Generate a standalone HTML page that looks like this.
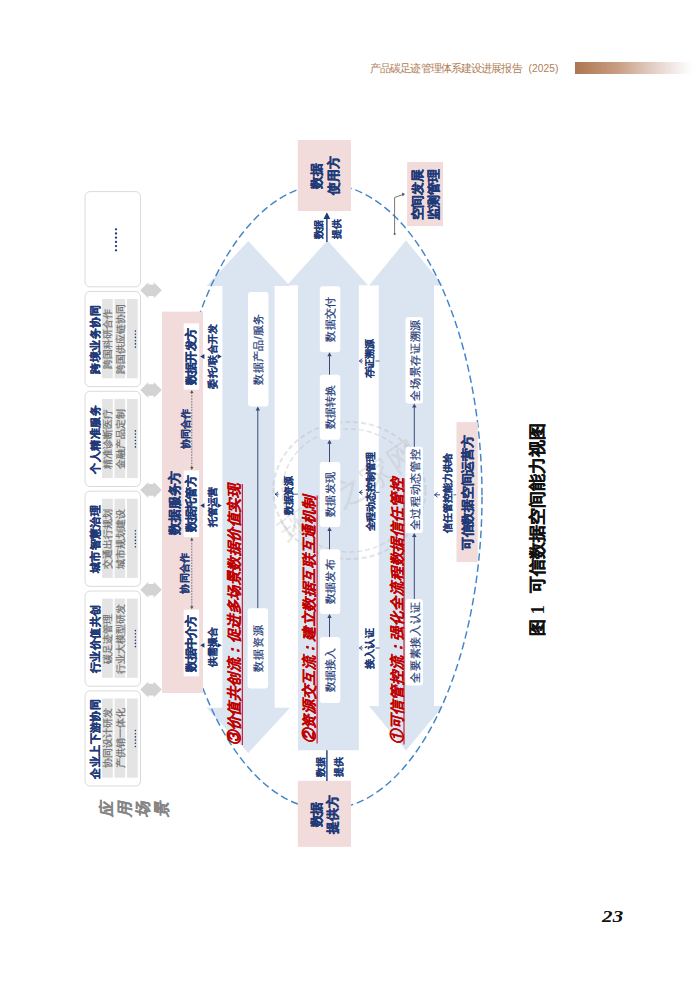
<!DOCTYPE html>
<html><head><meta charset="utf-8"><title>可信数据空间能力视图</title>
<style>
html,body{margin:0;padding:0;background:#fff;}
body{width:699px;height:983px;overflow:hidden;position:relative;font-family:'Liberation Sans', sans-serif;}
.bar{position:absolute;left:575px;top:62px;width:118px;height:12px;background:linear-gradient(90deg,#ac7650 0%,#c79c80 35%,#e3cdc3 65%,#f8f2f2 90%,#fff 100%);}
.pg{position:absolute;left:602px;top:906px;font-family:'Liberation Serif', serif;font-weight:bold;font-style:italic;font-size:17.5px;letter-spacing:0.3px;color:#111;transform:scaleX(1.2);transform-origin:0 0;}
svg{position:absolute;left:0;top:0;}
</style></head>
<body>
<div class="bar"></div>
<svg width="699" height="983" viewBox="0 0 699 983">
<rect x="85" y="191.6" width="55.5" height="95.2" rx="5" fill="#fff" stroke="#dadada" stroke-width="1" />
<circle cx="116" cy="229.3" r="1.15" fill="#1f3a78"/>
<circle cx="116" cy="233.5" r="1.15" fill="#1f3a78"/>
<circle cx="116" cy="237.7" r="1.15" fill="#1f3a78"/>
<circle cx="116" cy="241.9" r="1.15" fill="#1f3a78"/>
<circle cx="116" cy="246.1" r="1.15" fill="#1f3a78"/>
<circle cx="116" cy="250.3" r="1.15" fill="#1f3a78"/>
<rect x="85" y="291.45" width="55.5" height="95.2" rx="5" fill="#fff" stroke="#dadada" stroke-width="1" />
<text transform="translate(94.8,339.55) rotate(-90)" text-anchor="middle" dominant-baseline="central" font-size="11.2" fill="#1f3a78" font-weight="bold" font-style="normal" font-family="'Liberation Sans', sans-serif" stroke="#1f3a78" stroke-width="0.34" stroke-linejoin="round"  textLength="68.4" lengthAdjust="spacing">跨境业务协同</text>
<rect x="102.1" y="299.05" width="10.7" height="79.2" rx="0" fill="#e4e4e4" stroke="none" stroke-width="0" />
<text transform="translate(107.69999999999999,339.05) rotate(-90)" text-anchor="middle" dominant-baseline="central" font-size="9.6" fill="#707070" font-weight="normal" font-style="normal" font-family="'Liberation Sans', sans-serif" stroke="#707070" stroke-width="0.22" stroke-linejoin="round"  textLength="60" lengthAdjust="spacing">跨国科研合作</text>
<rect x="114.5" y="299.05" width="10.7" height="79.2" rx="0" fill="#e4e4e4" stroke="none" stroke-width="0" />
<text transform="translate(120.1,339.05) rotate(-90)" text-anchor="middle" dominant-baseline="central" font-size="9.6" fill="#707070" font-weight="normal" font-style="normal" font-family="'Liberation Sans', sans-serif" stroke="#707070" stroke-width="0.22" stroke-linejoin="round"  textLength="70" lengthAdjust="spacing">跨国供应链协同</text>
<rect x="127" y="299.05" width="10.7" height="79.2" rx="0" fill="#e4e4e4" stroke="none" stroke-width="0" />
<circle cx="135.4" cy="331.1" r="0.8" fill="#1f3a78"/>
<circle cx="135.4" cy="334.2" r="0.8" fill="#1f3a78"/>
<circle cx="135.4" cy="337.4" r="0.8" fill="#1f3a78"/>
<circle cx="135.4" cy="340.7" r="0.8" fill="#1f3a78"/>
<circle cx="135.4" cy="343.9" r="0.8" fill="#1f3a78"/>
<circle cx="135.4" cy="347.1" r="0.8" fill="#1f3a78"/>
<rect x="85" y="391.29999999999995" width="55.5" height="95.2" rx="5" fill="#fff" stroke="#dadada" stroke-width="1" />
<text transform="translate(94.8,439.4) rotate(-90)" text-anchor="middle" dominant-baseline="central" font-size="11.2" fill="#1f3a78" font-weight="bold" font-style="normal" font-family="'Liberation Sans', sans-serif" stroke="#1f3a78" stroke-width="0.34" stroke-linejoin="round"  textLength="68.4" lengthAdjust="spacing">个人精准服务</text>
<rect x="102.1" y="398.9" width="10.7" height="79.2" rx="0" fill="#e4e4e4" stroke="none" stroke-width="0" />
<text transform="translate(107.69999999999999,438.9) rotate(-90)" text-anchor="middle" dominant-baseline="central" font-size="9.6" fill="#707070" font-weight="normal" font-style="normal" font-family="'Liberation Sans', sans-serif" stroke="#707070" stroke-width="0.22" stroke-linejoin="round"  textLength="60" lengthAdjust="spacing">精准诊断医疗</text>
<rect x="114.5" y="398.9" width="10.7" height="79.2" rx="0" fill="#e4e4e4" stroke="none" stroke-width="0" />
<text transform="translate(120.1,438.9) rotate(-90)" text-anchor="middle" dominant-baseline="central" font-size="9.6" fill="#707070" font-weight="normal" font-style="normal" font-family="'Liberation Sans', sans-serif" stroke="#707070" stroke-width="0.22" stroke-linejoin="round"  textLength="60" lengthAdjust="spacing">金融产品定制</text>
<rect x="127" y="398.9" width="10.7" height="79.2" rx="0" fill="#e4e4e4" stroke="none" stroke-width="0" />
<circle cx="135.4" cy="430.9" r="0.8" fill="#1f3a78"/>
<circle cx="135.4" cy="434.1" r="0.8" fill="#1f3a78"/>
<circle cx="135.4" cy="437.3" r="0.8" fill="#1f3a78"/>
<circle cx="135.4" cy="440.5" r="0.8" fill="#1f3a78"/>
<circle cx="135.4" cy="443.7" r="0.8" fill="#1f3a78"/>
<circle cx="135.4" cy="446.9" r="0.8" fill="#1f3a78"/>
<rect x="85" y="491.15" width="55.5" height="95.2" rx="5" fill="#fff" stroke="#dadada" stroke-width="1" />
<text transform="translate(94.8,539.25) rotate(-90)" text-anchor="middle" dominant-baseline="central" font-size="11.2" fill="#1f3a78" font-weight="bold" font-style="normal" font-family="'Liberation Sans', sans-serif" stroke="#1f3a78" stroke-width="0.34" stroke-linejoin="round"  textLength="68.4" lengthAdjust="spacing">城市智慧治理</text>
<rect x="102.1" y="498.75" width="10.7" height="79.2" rx="0" fill="#e4e4e4" stroke="none" stroke-width="0" />
<text transform="translate(107.69999999999999,538.75) rotate(-90)" text-anchor="middle" dominant-baseline="central" font-size="9.6" fill="#707070" font-weight="normal" font-style="normal" font-family="'Liberation Sans', sans-serif" stroke="#707070" stroke-width="0.22" stroke-linejoin="round"  textLength="60" lengthAdjust="spacing">交通出行规划</text>
<rect x="114.5" y="498.75" width="10.7" height="79.2" rx="0" fill="#e4e4e4" stroke="none" stroke-width="0" />
<text transform="translate(120.1,538.75) rotate(-90)" text-anchor="middle" dominant-baseline="central" font-size="9.6" fill="#707070" font-weight="normal" font-style="normal" font-family="'Liberation Sans', sans-serif" stroke="#707070" stroke-width="0.22" stroke-linejoin="round"  textLength="60" lengthAdjust="spacing">城市规划建设</text>
<rect x="127" y="498.75" width="10.7" height="79.2" rx="0" fill="#e4e4e4" stroke="none" stroke-width="0" />
<circle cx="135.4" cy="530.8" r="0.8" fill="#1f3a78"/>
<circle cx="135.4" cy="534.0" r="0.8" fill="#1f3a78"/>
<circle cx="135.4" cy="537.1" r="0.8" fill="#1f3a78"/>
<circle cx="135.4" cy="540.4" r="0.8" fill="#1f3a78"/>
<circle cx="135.4" cy="543.5" r="0.8" fill="#1f3a78"/>
<circle cx="135.4" cy="546.8" r="0.8" fill="#1f3a78"/>
<rect x="85" y="591.0" width="55.5" height="95.2" rx="5" fill="#fff" stroke="#dadada" stroke-width="1" />
<text transform="translate(94.8,639.1) rotate(-90)" text-anchor="middle" dominant-baseline="central" font-size="11.2" fill="#1f3a78" font-weight="bold" font-style="normal" font-family="'Liberation Sans', sans-serif" stroke="#1f3a78" stroke-width="0.34" stroke-linejoin="round"  textLength="68.4" lengthAdjust="spacing">行业价值共创</text>
<rect x="102.1" y="598.6" width="10.7" height="79.2" rx="0" fill="#e4e4e4" stroke="none" stroke-width="0" />
<text transform="translate(107.69999999999999,638.6) rotate(-90)" text-anchor="middle" dominant-baseline="central" font-size="9.6" fill="#707070" font-weight="normal" font-style="normal" font-family="'Liberation Sans', sans-serif" stroke="#707070" stroke-width="0.22" stroke-linejoin="round"  textLength="50" lengthAdjust="spacing">碳足迹管理</text>
<rect x="114.5" y="598.6" width="10.7" height="79.2" rx="0" fill="#e4e4e4" stroke="none" stroke-width="0" />
<text transform="translate(120.1,638.6) rotate(-90)" text-anchor="middle" dominant-baseline="central" font-size="9.6" fill="#707070" font-weight="normal" font-style="normal" font-family="'Liberation Sans', sans-serif" stroke="#707070" stroke-width="0.22" stroke-linejoin="round"  textLength="70" lengthAdjust="spacing">行业大模型研发</text>
<rect x="127" y="598.6" width="10.7" height="79.2" rx="0" fill="#e4e4e4" stroke="none" stroke-width="0" />
<circle cx="135.4" cy="630.6" r="0.8" fill="#1f3a78"/>
<circle cx="135.4" cy="633.8" r="0.8" fill="#1f3a78"/>
<circle cx="135.4" cy="637.0" r="0.8" fill="#1f3a78"/>
<circle cx="135.4" cy="640.2" r="0.8" fill="#1f3a78"/>
<circle cx="135.4" cy="643.4" r="0.8" fill="#1f3a78"/>
<circle cx="135.4" cy="646.6" r="0.8" fill="#1f3a78"/>
<rect x="85" y="690.85" width="55.5" height="95.2" rx="5" fill="#fff" stroke="#dadada" stroke-width="1" />
<text transform="translate(94.8,738.95) rotate(-90)" text-anchor="middle" dominant-baseline="central" font-size="11.2" fill="#1f3a78" font-weight="bold" font-style="normal" font-family="'Liberation Sans', sans-serif" stroke="#1f3a78" stroke-width="0.34" stroke-linejoin="round"  textLength="79.8" lengthAdjust="spacing">企业上下游协同</text>
<rect x="102.1" y="698.45" width="10.7" height="79.2" rx="0" fill="#e4e4e4" stroke="none" stroke-width="0" />
<text transform="translate(107.69999999999999,738.45) rotate(-90)" text-anchor="middle" dominant-baseline="central" font-size="9.6" fill="#707070" font-weight="normal" font-style="normal" font-family="'Liberation Sans', sans-serif" stroke="#707070" stroke-width="0.22" stroke-linejoin="round"  textLength="60" lengthAdjust="spacing">协同设计研发</text>
<rect x="114.5" y="698.45" width="10.7" height="79.2" rx="0" fill="#e4e4e4" stroke="none" stroke-width="0" />
<text transform="translate(120.1,738.45) rotate(-90)" text-anchor="middle" dominant-baseline="central" font-size="9.6" fill="#707070" font-weight="normal" font-style="normal" font-family="'Liberation Sans', sans-serif" stroke="#707070" stroke-width="0.22" stroke-linejoin="round"  textLength="60" lengthAdjust="spacing">产供销一体化</text>
<rect x="127" y="698.45" width="10.7" height="79.2" rx="0" fill="#e4e4e4" stroke="none" stroke-width="0" />
<circle cx="135.4" cy="730.5" r="0.8" fill="#1f3a78"/>
<circle cx="135.4" cy="733.7" r="0.8" fill="#1f3a78"/>
<circle cx="135.4" cy="736.9" r="0.8" fill="#1f3a78"/>
<circle cx="135.4" cy="740.1" r="0.8" fill="#1f3a78"/>
<circle cx="135.4" cy="743.2" r="0.8" fill="#1f3a78"/>
<circle cx="135.4" cy="746.5" r="0.8" fill="#1f3a78"/>
<path d="M140.3,290.2 L148.3,282.2 L148.3,284.4 L153.8,284.4 L153.8,282.2 L161.8,290.2 L153.8,298.2 L153.8,296.0 L148.3,296.0 L148.3,298.2 Z" fill="#d3d3d3"/>
<path d="M140.3,390.04999999999995 L148.3,382.04999999999995 L148.3,384.24999999999994 L153.8,384.24999999999994 L153.8,382.04999999999995 L161.8,390.04999999999995 L153.8,398.04999999999995 L153.8,395.84999999999997 L148.3,395.84999999999997 L148.3,398.04999999999995 Z" fill="#d3d3d3"/>
<path d="M140.3,489.8999999999999 L148.3,481.8999999999999 L148.3,484.0999999999999 L153.8,484.0999999999999 L153.8,481.8999999999999 L161.8,489.8999999999999 L153.8,497.8999999999999 L153.8,495.69999999999993 L148.3,495.69999999999993 L148.3,497.8999999999999 Z" fill="#d3d3d3"/>
<path d="M140.3,589.75 L148.3,581.75 L148.3,583.95 L153.8,583.95 L153.8,581.75 L161.8,589.75 L153.8,597.75 L153.8,595.55 L148.3,595.55 L148.3,597.75 Z" fill="#d3d3d3"/>
<path d="M140.3,689.6 L148.3,681.6 L148.3,683.8000000000001 L153.8,683.8000000000001 L153.8,681.6 L161.8,689.6 L153.8,697.6 L153.8,695.4 L148.3,695.4 L148.3,697.6 Z" fill="#d3d3d3"/>
<text transform="translate(106.3,807.5) rotate(-90) skewX(-12)" text-anchor="middle" dominant-baseline="central" font-size="15.5" fill="#858585" font-weight="bold" font-family="'Liberation Sans', sans-serif" stroke="#858585" stroke-width="0.2">应</text>
<text transform="translate(124.6,807.5) rotate(-90) skewX(-12)" text-anchor="middle" dominant-baseline="central" font-size="15.5" fill="#858585" font-weight="bold" font-family="'Liberation Sans', sans-serif" stroke="#858585" stroke-width="0.2">用</text>
<text transform="translate(142.9,807.5) rotate(-90) skewX(-12)" text-anchor="middle" dominant-baseline="central" font-size="15.5" fill="#858585" font-weight="bold" font-family="'Liberation Sans', sans-serif" stroke="#858585" stroke-width="0.2">场</text>
<text transform="translate(161.2,807.5) rotate(-90) skewX(-12)" text-anchor="middle" dominant-baseline="central" font-size="15.5" fill="#858585" font-weight="bold" font-family="'Liberation Sans', sans-serif" stroke="#858585" stroke-width="0.2">景</text>
<path d="M248.25,241 L290,286 L274.6,286 L274.6,707.8 L290,707.8 L248.25,753 L206.5,707.8 L222.4,707.8 L222.4,286 L206.5,286 Z" fill="#dbe4f1"/>
<path d="M327.5,240.5 L368,285.3 L358.8,285.3 L358.8,750.2 L298,750.2 L298,285.3 L287,285.3 Z" fill="#dbe4f1"/>
<path d="M406.0,240.5 L443,285.5 L434,285.5 L434,706 L443,706 L406.0,750.5 L369,706 L378.8,706 L378.8,285.5 L369,285.5 Z" fill="#dbe4f1"/>
<g opacity="0.4" fill="none" stroke="#bdbdbd" stroke-width="2" stroke-dasharray="5 3"><ellipse cx="349.4" cy="490.5" rx="76" ry="68.5"/><ellipse cx="349.4" cy="490.5" rx="67" ry="61.5" stroke-width="1.5"/></g>
<text transform="translate(349,492) rotate(-33)" text-anchor="middle" dominant-baseline="central" font-size="31" fill="#c4c4c4" opacity="0.4" font-family="'Liberation Sans', sans-serif" textLength="160" lengthAdjust="spacing">环境之家网</text>
<ellipse cx="326.1" cy="496.8" rx="155.9" ry="312.4" fill="none" stroke="#4285c8" stroke-width="1.45" stroke-dasharray="7.5 3.8"/>
<rect x="248" y="292" width="20.5" height="114.60000000000002" rx="3" fill="#fff" stroke="none" stroke-width="0" />
<text transform="translate(258.25,349.3) rotate(-90)" text-anchor="middle" dominant-baseline="central" font-size="11" fill="#1f3a78" font-weight="normal" font-style="normal" font-family="'Liberation Sans', sans-serif" stroke="#1f3a78" stroke-width="0.22" stroke-linejoin="round"  textLength="71" lengthAdjust="spacing">数据产品/服务</text>
<rect x="247.6" y="608.2" width="20.5" height="80.39999999999998" rx="3" fill="#fff" stroke="none" stroke-width="0" />
<text transform="translate(257.85,648.4000000000001) rotate(-90)" text-anchor="middle" dominant-baseline="central" font-size="11" fill="#1f3a78" font-weight="normal" font-style="normal" font-family="'Liberation Sans', sans-serif" stroke="#1f3a78" stroke-width="0.22" stroke-linejoin="round"  textLength="46.5" lengthAdjust="spacing">数据资源</text>
<line x1="257.8" y1="608.2" x2="257.8" y2="409.6" stroke="#3b4a7a" stroke-width="1"/>
<path d="M255.60000000000002,410.6 L257.8,406.6 L260.0,410.6 Z" fill="#3b4a7a"/>
<rect x="319.8" y="286.3" width="20.5" height="66.0" rx="3" fill="#fff" stroke="none" stroke-width="0" />
<text transform="translate(329.6,319.3) rotate(-90)" text-anchor="middle" dominant-baseline="central" font-size="11" fill="#1f3a78" font-weight="normal" font-style="normal" font-family="'Liberation Sans', sans-serif" stroke="#1f3a78" stroke-width="0.22" stroke-linejoin="round"  textLength="44.5" lengthAdjust="spacing">数据交付</text>
<rect x="319.8" y="374.7" width="20.5" height="65.0" rx="3" fill="#fff" stroke="none" stroke-width="0" />
<text transform="translate(329.6,407.2) rotate(-90)" text-anchor="middle" dominant-baseline="central" font-size="11" fill="#1f3a78" font-weight="normal" font-style="normal" font-family="'Liberation Sans', sans-serif" stroke="#1f3a78" stroke-width="0.22" stroke-linejoin="round"  textLength="44.5" lengthAdjust="spacing">数据转换</text>
<rect x="319.8" y="462" width="20.5" height="65" rx="3" fill="#fff" stroke="none" stroke-width="0" />
<text transform="translate(329.6,494.5) rotate(-90)" text-anchor="middle" dominant-baseline="central" font-size="11" fill="#1f3a78" font-weight="normal" font-style="normal" font-family="'Liberation Sans', sans-serif" stroke="#1f3a78" stroke-width="0.22" stroke-linejoin="round"  textLength="44.5" lengthAdjust="spacing">数据发现</text>
<rect x="319.8" y="549.3" width="20.5" height="64.60000000000002" rx="3" fill="#fff" stroke="none" stroke-width="0" />
<text transform="translate(329.6,581.5999999999999) rotate(-90)" text-anchor="middle" dominant-baseline="central" font-size="11" fill="#1f3a78" font-weight="normal" font-style="normal" font-family="'Liberation Sans', sans-serif" stroke="#1f3a78" stroke-width="0.22" stroke-linejoin="round"  textLength="44.5" lengthAdjust="spacing">数据发布</text>
<rect x="319.8" y="637" width="20.5" height="66" rx="3" fill="#fff" stroke="none" stroke-width="0" />
<text transform="translate(329.6,670.0) rotate(-90)" text-anchor="middle" dominant-baseline="central" font-size="11" fill="#1f3a78" font-weight="normal" font-style="normal" font-family="'Liberation Sans', sans-serif" stroke="#1f3a78" stroke-width="0.22" stroke-linejoin="round"  textLength="44.5" lengthAdjust="spacing">数据接入</text>
<line x1="329.5" y1="374.7" x2="329.5" y2="355.3" stroke="#3b4a7a" stroke-width="1"/>
<path d="M327.3,356.3 L329.5,352.3 L331.7,356.3 Z" fill="#3b4a7a"/>
<line x1="329.5" y1="462" x2="329.5" y2="442.7" stroke="#3b4a7a" stroke-width="1"/>
<path d="M327.3,443.7 L329.5,439.7 L331.7,443.7 Z" fill="#3b4a7a"/>
<line x1="329.5" y1="549.3" x2="329.5" y2="530" stroke="#3b4a7a" stroke-width="1"/>
<path d="M327.3,531 L329.5,527 L331.7,531 Z" fill="#3b4a7a"/>
<line x1="329.5" y1="637" x2="329.5" y2="616.9" stroke="#3b4a7a" stroke-width="1"/>
<path d="M327.3,617.9 L329.5,613.9 L331.7,617.9 Z" fill="#3b4a7a"/>
<rect x="405.5" y="317" width="17.5" height="86.60000000000002" rx="3" fill="#fff" stroke="none" stroke-width="0" />
<text transform="translate(414.6,360.3) rotate(-90)" text-anchor="middle" dominant-baseline="central" font-size="11" fill="#1f3a78" font-weight="normal" font-style="normal" font-family="'Liberation Sans', sans-serif" stroke="#1f3a78" stroke-width="0.22" stroke-linejoin="round"  textLength="81" lengthAdjust="spacing">全场景存证溯源</text>
<rect x="405.5" y="446.8" width="17.5" height="86.19999999999999" rx="3" fill="#fff" stroke="none" stroke-width="0" />
<text transform="translate(414.6,489.9) rotate(-90)" text-anchor="middle" dominant-baseline="central" font-size="11" fill="#1f3a78" font-weight="normal" font-style="normal" font-family="'Liberation Sans', sans-serif" stroke="#1f3a78" stroke-width="0.22" stroke-linejoin="round"  textLength="81" lengthAdjust="spacing">全过程动态管控</text>
<rect x="405.5" y="598.9" width="17.5" height="86.5" rx="3" fill="#fff" stroke="none" stroke-width="0" />
<text transform="translate(414.6,642.15) rotate(-90)" text-anchor="middle" dominant-baseline="central" font-size="11" fill="#1f3a78" font-weight="normal" font-style="normal" font-family="'Liberation Sans', sans-serif" stroke="#1f3a78" stroke-width="0.22" stroke-linejoin="round"  textLength="81" lengthAdjust="spacing">全要素接入认证</text>
<line x1="414.3" y1="446.8" x2="414.3" y2="406.6" stroke="#3b4a7a" stroke-width="1"/>
<path d="M412.1,407.6 L414.3,403.6 L416.5,407.6 Z" fill="#3b4a7a"/>
<line x1="414.3" y1="598.9" x2="414.3" y2="536" stroke="#3b4a7a" stroke-width="1"/>
<path d="M412.1,537 L414.3,533 L416.5,537 Z" fill="#3b4a7a"/>
<text transform="translate(234,614.5) rotate(-90)" text-anchor="middle" dominant-baseline="central" font-size="14.4" fill="#c00000" font-weight="bold" font-style="italic" font-family="'Liberation Sans', sans-serif" stroke="#c00000" stroke-width="0.15" stroke-linejoin="round"  textLength="261" lengthAdjust="spacing">③价值共创流：促进多场景数据价值实现</text>
<text transform="translate(308.6,619.4) rotate(-90)" text-anchor="middle" dominant-baseline="central" font-size="14.4" fill="#c00000" font-weight="bold" font-style="italic" font-family="'Liberation Sans', sans-serif" stroke="#c00000" stroke-width="0.15" stroke-linejoin="round"  textLength="247.5" lengthAdjust="spacing">②资源交互流：建立数据互联互通机制</text>
<text transform="translate(397,611.3) rotate(-90)" text-anchor="middle" dominant-baseline="central" font-size="14.4" fill="#c00000" font-weight="bold" font-style="italic" font-family="'Liberation Sans', sans-serif" stroke="#c00000" stroke-width="0.15" stroke-linejoin="round"  textLength="266" lengthAdjust="spacing">①可信管控流：强化全流程数据信任管控</text>
<line x1="242.3" y1="484" x2="242.3" y2="745" stroke="#c00000" stroke-width="1"/>
<line x1="317.1" y1="495.5" x2="317.1" y2="743.5" stroke="#c00000" stroke-width="1"/>
<line x1="404" y1="478.5" x2="404" y2="744.5" stroke="#c00000" stroke-width="1"/>
<text transform="translate(288.3,495.5) rotate(-90)" text-anchor="middle" dominant-baseline="central" font-size="10" fill="#1f3a78" font-weight="bold" font-style="normal" font-family="'Liberation Sans', sans-serif" stroke="#1f3a78" stroke-width="0.12" stroke-linejoin="round"  textLength="39.5" lengthAdjust="spacing">数据资源</text>
<path d="M278.1,491.9 L275.1,494.2 L278.1,496.5 M275.1,494.2 L278.6,494.2" fill="none" stroke="#1f3a78" stroke-width="0.9"/>
<line x1="293.8" y1="494.2" x2="297.8" y2="494.2" stroke="#1f3a78" stroke-width="0.8"/>
<text transform="translate(369.7,358.6) rotate(-90)" text-anchor="middle" dominant-baseline="central" font-size="10" fill="#1f3a78" font-weight="bold" font-style="normal" font-family="'Liberation Sans', sans-serif" stroke="#1f3a78" stroke-width="0.12" stroke-linejoin="round"  textLength="39.5" lengthAdjust="spacing">存证溯源</text>
<path d="M362.3,358.7 L359.3,361 L362.3,363.3 M359.3,361 L362.8,361" fill="none" stroke="#1f3a78" stroke-width="0.9"/>
<line x1="375.5" y1="361" x2="379.5" y2="361" stroke="#1f3a78" stroke-width="0.8"/>
<text transform="translate(370.6,491.9) rotate(-90)" text-anchor="middle" dominant-baseline="central" font-size="10" fill="#1f3a78" font-weight="bold" font-style="normal" font-family="'Liberation Sans', sans-serif" stroke="#1f3a78" stroke-width="0.12" stroke-linejoin="round"  textLength="79" lengthAdjust="spacing">全程动态控制管理</text>
<path d="M362.3,490.09999999999997 L359.3,492.4 L362.3,494.7 M359.3,492.4 L362.8,492.4" fill="none" stroke="#1f3a78" stroke-width="0.9"/>
<line x1="375.5" y1="492.4" x2="379.5" y2="492.4" stroke="#1f3a78" stroke-width="0.8"/>
<text transform="translate(369.7,648.6) rotate(-90)" text-anchor="middle" dominant-baseline="central" font-size="10" fill="#1f3a78" font-weight="bold" font-style="normal" font-family="'Liberation Sans', sans-serif" stroke="#1f3a78" stroke-width="0.12" stroke-linejoin="round"  textLength="40.5" lengthAdjust="spacing">接入认证</text>
<path d="M362.3,645.7 L359.3,648 L362.3,650.3 M359.3,648 L362.8,648" fill="none" stroke="#1f3a78" stroke-width="0.9"/>
<line x1="375.5" y1="648" x2="379.5" y2="648" stroke="#1f3a78" stroke-width="0.8"/>
<text transform="translate(447.5,493) rotate(-90)" text-anchor="middle" dominant-baseline="central" font-size="10" fill="#1f3a78" font-weight="bold" font-style="normal" font-family="'Liberation Sans', sans-serif" stroke="#1f3a78" stroke-width="0.12" stroke-linejoin="round"  textLength="79.5" lengthAdjust="spacing">信任管控能力供给</text>
<path d="M437.5,492.5 L434.5,494.8 L437.5,497.1 M434.5,494.8 L440,494.8" fill="none" stroke="#1f3a78" stroke-width="0.9"/>
<line x1="453.5" y1="494.8" x2="456.5" y2="494.8" stroke="#1f3a78" stroke-width="0.8"/>
<rect x="162" y="311.6" width="41" height="381.4" rx="0" fill="#f2dcdb" stroke="none" stroke-width="0" />
<text transform="translate(174,502.6) rotate(-90)" text-anchor="middle" dominant-baseline="central" font-size="13" fill="#1f3a78" font-weight="bold" font-style="normal" font-family="'Liberation Sans', sans-serif" stroke="#1f3a78" stroke-width="0.39" stroke-linejoin="round"  textLength="64" lengthAdjust="spacing">数据服务方</text>
<rect x="183.7" y="323.4" width="15.4" height="66.20000000000005" rx="0" fill="#fff" stroke="none" stroke-width="0" />
<text transform="translate(190.8,356.5) rotate(-90)" text-anchor="middle" dominant-baseline="central" font-size="12" fill="#1f3a78" font-weight="bold" font-style="normal" font-family="'Liberation Sans', sans-serif" stroke="#1f3a78" stroke-width="0.36" stroke-linejoin="round"  textLength="57" lengthAdjust="spacing">数据开发方</text>
<rect x="183.7" y="470.5" width="15.4" height="66.60000000000002" rx="0" fill="#fff" stroke="none" stroke-width="0" />
<text transform="translate(190.8,503.8) rotate(-90)" text-anchor="middle" dominant-baseline="central" font-size="12" fill="#1f3a78" font-weight="bold" font-style="normal" font-family="'Liberation Sans', sans-serif" stroke="#1f3a78" stroke-width="0.36" stroke-linejoin="round"  textLength="57" lengthAdjust="spacing">数据托管方</text>
<rect x="183.7" y="609.7" width="15.4" height="66.59999999999991" rx="0" fill="#fff" stroke="none" stroke-width="0" />
<text transform="translate(190.8,643.0) rotate(-90)" text-anchor="middle" dominant-baseline="central" font-size="12" fill="#1f3a78" font-weight="bold" font-style="normal" font-family="'Liberation Sans', sans-serif" stroke="#1f3a78" stroke-width="0.36" stroke-linejoin="round"  textLength="57" lengthAdjust="spacing">数据中介方</text>
<line x1="191.8" y1="392.6" x2="191.8" y2="467.5" stroke="#555" stroke-width="0.8" stroke-dasharray="1.6 1.2"/>
<path d="M190.1,393.1 L191.8,390.1 L193.5,393.1Z M190.1,467.0 L191.8,470.0 L193.5,467.0Z" fill="#555"/>
<text transform="translate(185.3,428.8) rotate(-90)" text-anchor="middle" dominant-baseline="central" font-size="10" fill="#1f3a78" font-weight="bold" font-style="normal" font-family="'Liberation Sans', sans-serif" stroke="#1f3a78" stroke-width="0.12" stroke-linejoin="round"  textLength="40.5" lengthAdjust="spacing">协同合作</text>
<line x1="191.8" y1="540.1" x2="191.8" y2="606.7" stroke="#555" stroke-width="0.8" stroke-dasharray="1.6 1.2"/>
<path d="M190.1,540.6 L191.8,537.6 L193.5,540.6Z M190.1,606.2 L191.8,609.2 L193.5,606.2Z" fill="#555"/>
<text transform="translate(184,573.3) rotate(-90)" text-anchor="middle" dominant-baseline="central" font-size="10" fill="#1f3a78" font-weight="bold" font-style="normal" font-family="'Liberation Sans', sans-serif" stroke="#1f3a78" stroke-width="0.12" stroke-linejoin="round"  textLength="40.5" lengthAdjust="spacing">协同合作</text>
<text transform="translate(212.3,356.2) rotate(-90)" text-anchor="middle" dominant-baseline="central" font-size="10" fill="#1f3a78" font-weight="bold" font-style="normal" font-family="'Liberation Sans', sans-serif" stroke="#1f3a78" stroke-width="0.12" stroke-linejoin="round"  textLength="65" lengthAdjust="spacing">委托/联合开发</text>
<path d="M200.2,356.5 L204.4,354.1 L204.4,358.9Z M221.8,356.5 L217.6,354.1 L217.6,358.9Z" fill="#1f3a78"/>
<text transform="translate(212.3,506.8) rotate(-90)" text-anchor="middle" dominant-baseline="central" font-size="10" fill="#1f3a78" font-weight="bold" font-style="normal" font-family="'Liberation Sans', sans-serif" stroke="#1f3a78" stroke-width="0.12" stroke-linejoin="round"  textLength="40.5" lengthAdjust="spacing">托管运营</text>
<path d="M200.2,505.6 L204.4,503.20000000000005 L204.4,508.0Z M221.8,505.6 L217.6,503.20000000000005 L217.6,508.0Z" fill="#1f3a78"/>
<text transform="translate(212.3,646.5) rotate(-90)" text-anchor="middle" dominant-baseline="central" font-size="10" fill="#1f3a78" font-weight="bold" font-style="normal" font-family="'Liberation Sans', sans-serif" stroke="#1f3a78" stroke-width="0.12" stroke-linejoin="round"  textLength="40" lengthAdjust="spacing">供需撮合</text>
<path d="M200.2,645.3 L204.4,642.9 L204.4,647.6999999999999Z M221.8,645.3 L217.6,642.9 L217.6,647.6999999999999Z" fill="#1f3a78"/>
<rect x="297.8" y="140" width="53.2" height="71.1" rx="0" fill="#f2dcdb" stroke="none" stroke-width="0" />
<text transform="translate(316.9,175.9) rotate(-90)" text-anchor="middle" dominant-baseline="central" font-size="13" fill="#1f3a78" font-weight="bold" font-style="normal" font-family="'Liberation Sans', sans-serif" stroke="#1f3a78" stroke-width="0.39" stroke-linejoin="round"  textLength="25.5" lengthAdjust="spacing">数据</text>
<text transform="translate(333.3,175.5) rotate(-90)" text-anchor="middle" dominant-baseline="central" font-size="13" fill="#1f3a78" font-weight="bold" font-style="normal" font-family="'Liberation Sans', sans-serif" stroke="#1f3a78" stroke-width="0.39" stroke-linejoin="round"  textLength="38.5" lengthAdjust="spacing">使用方</text>
<rect x="297.8" y="780.8" width="53.2" height="66.1" rx="0" fill="#f2dcdb" stroke="none" stroke-width="0" />
<text transform="translate(316.9,814.4) rotate(-90)" text-anchor="middle" dominant-baseline="central" font-size="13" fill="#1f3a78" font-weight="bold" font-style="normal" font-family="'Liberation Sans', sans-serif" stroke="#1f3a78" stroke-width="0.39" stroke-linejoin="round"  textLength="25.5" lengthAdjust="spacing">数据</text>
<text transform="translate(332.6,814.4) rotate(-90)" text-anchor="middle" dominant-baseline="central" font-size="13" fill="#1f3a78" font-weight="bold" font-style="normal" font-family="'Liberation Sans', sans-serif" stroke="#1f3a78" stroke-width="0.39" stroke-linejoin="round"  textLength="38.5" lengthAdjust="spacing">提供方</text>
<rect x="456.5" y="422.1" width="21.3" height="139.9" rx="0" fill="#f2dcdb" stroke="none" stroke-width="0" />
<text transform="translate(467.5,492.6) rotate(-90)" text-anchor="middle" dominant-baseline="central" font-size="12.5" fill="#1f3a78" font-weight="bold" font-style="normal" font-family="'Liberation Sans', sans-serif" stroke="#1f3a78" stroke-width="0.38" stroke-linejoin="round"  textLength="115" lengthAdjust="spacing">可信数据空间运营方</text>
<rect x="407.1" y="162" width="35.9" height="64.1" rx="0" fill="#f2dcdb" stroke="none" stroke-width="0" />
<text transform="translate(417.8,194.7) rotate(-90)" text-anchor="middle" dominant-baseline="central" font-size="12.5" fill="#1f3a78" font-weight="bold" font-style="normal" font-family="'Liberation Sans', sans-serif" stroke="#1f3a78" stroke-width="0.38" stroke-linejoin="round"  textLength="51" lengthAdjust="spacing">空间发展</text>
<text transform="translate(433.8,194.7) rotate(-90)" text-anchor="middle" dominant-baseline="central" font-size="12.5" fill="#1f3a78" font-weight="bold" font-style="normal" font-family="'Liberation Sans', sans-serif" stroke="#1f3a78" stroke-width="0.38" stroke-linejoin="round"  textLength="51" lengthAdjust="spacing">监测管理</text>
<path d="M394.6,234 L394.6,197.5 L403,194.5" fill="none" stroke="#555" stroke-width="0.8"/><circle cx="394.6" cy="234" r="1" fill="#555"/><path d="M402,192.5 L405,194 L402.5,196.5Z" fill="#555"/>
<line x1="326.9" y1="216" x2="326.9" y2="242" stroke="#1f3a78" stroke-width="1.4"/><path d="M323.5,219 L326.9,212.2 L330.3,219Z" fill="#1f3a78"/>
<text transform="translate(318,229.3) rotate(-90)" text-anchor="middle" dominant-baseline="central" font-size="9.5" fill="#1f3a78" font-weight="bold" font-style="normal" font-family="'Liberation Sans', sans-serif" stroke="#1f3a78" stroke-width="0.12" stroke-linejoin="round"  textLength="19.5" lengthAdjust="spacing">数据</text>
<text transform="translate(336.1,229.1) rotate(-90)" text-anchor="middle" dominant-baseline="central" font-size="9.5" fill="#1f3a78" font-weight="bold" font-style="normal" font-family="'Liberation Sans', sans-serif" stroke="#1f3a78" stroke-width="0.12" stroke-linejoin="round"  textLength="19.5" lengthAdjust="spacing">提供</text>
<line x1="326.9" y1="750.2" x2="326.9" y2="781" stroke="#1f3a78" stroke-width="1.4"/>
<text transform="translate(320.4,766.8) rotate(-90)" text-anchor="middle" dominant-baseline="central" font-size="9.5" fill="#1f3a78" font-weight="bold" font-style="normal" font-family="'Liberation Sans', sans-serif" stroke="#1f3a78" stroke-width="0.12" stroke-linejoin="round"  textLength="19.5" lengthAdjust="spacing">数据</text>
<text transform="translate(338.4,767.1) rotate(-90)" text-anchor="middle" dominant-baseline="central" font-size="9.5" fill="#1f3a78" font-weight="bold" font-style="normal" font-family="'Liberation Sans', sans-serif" stroke="#1f3a78" stroke-width="0.12" stroke-linejoin="round"  textLength="19.5" lengthAdjust="spacing">提供</text>
<text x="370" y="72.3" font-size="10.6" fill="#b07d57" font-family="'Liberation Sans', sans-serif" textLength="152.5" lengthAdjust="spacing">产品碳足迹管理体系建设进展报告</text>
<text x="528.5" y="72.3" font-size="10.2" fill="#b07d57" font-family="'Liberation Sans', sans-serif" textLength="30" lengthAdjust="spacing">(2025)</text>
<text transform="translate(537.4,508.3) rotate(-90)" text-anchor="middle" dominant-baseline="central" font-size="17" font-weight="bold" fill="#111" font-family="'Liberation Serif', serif" stroke="#111" stroke-width="0.3" textLength="170" lengthAdjust="spacing">可信数据空间能力视图</text>
<text transform="translate(537.4,609.7) rotate(-90)" text-anchor="middle" dominant-baseline="central" font-size="19" font-weight="bold" fill="#111" font-family="'Liberation Serif', serif">1</text>
<text transform="translate(537.4,627.3) rotate(-90)" text-anchor="middle" dominant-baseline="central" font-size="17" font-weight="bold" fill="#111" font-family="'Liberation Serif', serif" stroke="#111" stroke-width="0.3">图</text>
</svg>
<div class="pg">23</div>
</body></html>
